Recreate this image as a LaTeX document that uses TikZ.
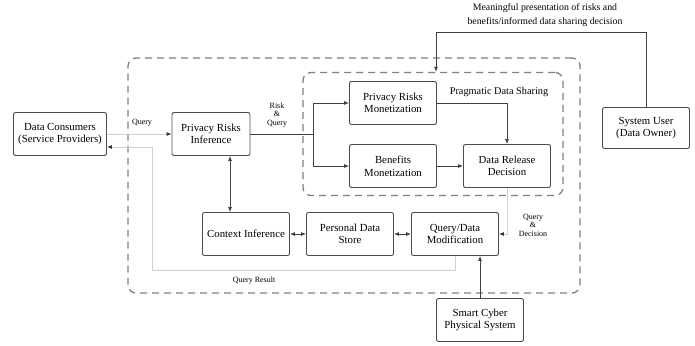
\documentclass[tikz,border=0pt]{standalone}
\usepackage{fontspec}
\setmainfont{Liberation Serif}
\usetikzlibrary{arrows.meta}

\tikzset{
  block/.style={draw=black!70, line width=0.9pt, rounded corners=2pt, minimum width=87pt,
    minimum height=43pt, align=center, font=\fontsize{10.8}{12.5}\selectfont},
  group/.style={draw=black!50, line width=1.3pt, dash pattern=on 7pt off 5pt, rounded corners=8pt},
  link/.style={draw=black!75, line width=0.8pt, -{Latex[length=5pt,width=4pt]}},
  both/.style={draw=black!75, line width=0.8pt, {Latex[length=5pt,width=4pt]}-{Latex[length=5pt,width=4pt]}},
  faint/.style={draw=black!18, line width=0.8pt, -{Latex[length=5pt,width=4pt,color=black!80]}},
  note/.style={font=\fontsize{8}{8.5}\selectfont, align=center},
}

\begin{document}
\begin{tikzpicture}[x=1pt, y=-1pt]
\useasboundingbox (0,0) rectangle (695,345);

% dashed frames
\node[group, minimum width=452pt, minimum height=235pt] (system) at (354,175.5) {};
\node[group, minimum width=260pt, minimum height=123pt] (pds) at (433,134) {};
\node[font=\fontsize{10.3}{11}\selectfont] (pdslabel) at (499,92) {Pragmatic Data Sharing};

% blocks
\node[block, minimum width=93pt] (consumers) at (60,134) {Data Consumers\\(Service Providers)};
\node[block, minimum width=78pt] (inference) at (211,134) {Privacy Risks\\Inference};
\node[block] (riskmon) at (393,103) {Privacy Risks\\Monetization};
\node[block] (benmon) at (393,166) {Benefits\\Monetization};
\node[block] (release) at (507,166) {Data Release\\Decision};
\node[block, minimum height=41pt] (user) at (646,128) {System User\\(Data Owner)};
\node[block] (context) at (246,234) {Context Inference};
\node[block] (store) at (350,234) {Personal Data\\Store};
\node[block] (modify) at (455,234) {Query/Data\\Modification};
\node[block] (cps) at (480,320) {Smart Cyber\\Physical System};

% helper points
\coordinate (split) at (313,134);
\coordinate (ic) at (230,0);
\coordinate (qr) at (152,270);
\coordinate (fb) at (436,32);

% connectors
\draw[faint] (consumers) -- (inference);
\node[note] (querylbl) at (142,123) {Query};

\draw[faint] (modify.south) |- (qr) |- ([yshift=-13pt]consumers.east);
\node[note] (resultlbl) at (254,281) {Query Result};

\draw[draw=black!75, line width=0.8pt] (inference.east) -- (split);
\draw[link] (split) |- (riskmon.west);
\draw[link] (split) |- (benmon.west);
\node[note] (rqlbl) at (277,115) {Risk\\\&\\Query};

\draw[both] (inference.south -| ic) -- (context.north -| ic);
\draw[link] (riskmon.east) -| (release.north);
\draw[link] (benmon) -- (release);

\draw[faint] (release.south) |- (modify.east);
\node[note] (qdlbl) at (533,225) {Query\\\&\\Decision};

\draw[both] (context) -- (store);
\draw[both] (store) -- (modify);
\draw[link] (cps.north) -- (cps.north |- modify.south);

\draw[link] (user.north) |- (fb) -- (fb |- pds.north);
\node[font=\fontsize{9.8}{14}\selectfont, align=center] (fblbl) at (545,15)
  {Meaningful presentation of risks and\\benefits/informed data sharing decision};
\end{tikzpicture}
\end{document}
